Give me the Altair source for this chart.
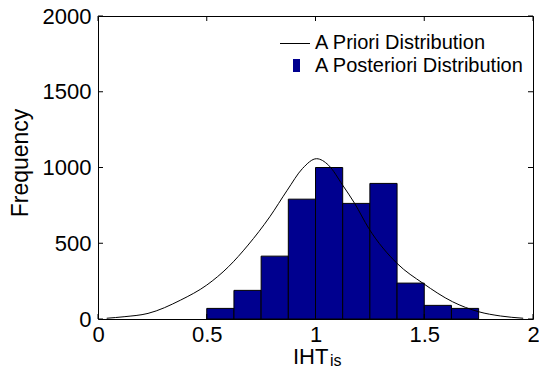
import altair as alt
import pandas as pd

# Histogram (a posteriori) bins and frequencies
bin_start = [0.5, 0.625, 0.75, 0.875, 1.0, 1.125, 1.25, 1.375, 1.5, 1.625]
bin_end = [0.625, 0.75, 0.875, 1.0, 1.125, 1.25, 1.375, 1.5, 1.625, 1.75]
freq = [70, 189, 415, 791, 1000, 763, 895, 237, 90, 70]

# A priori distribution curve
prior_x = [0.04, 0.12, 0.23, 0.38, 0.50, 0.60, 0.69, 0.79, 0.87, 0.94, 1.005,
           1.06, 1.125, 1.18, 1.245, 1.375, 1.495, 1.63, 1.75, 1.85, 1.955]
prior_y = [5, 15, 37, 125, 224, 345, 488, 675, 850, 993, 1058,
           1015, 883, 763, 598, 367, 235, 114, 48, 20, 5]

x_ticks = [0, 0.5, 1, 1.5, 2]
y_ticks = [0, 500, 1000, 1500, 2000]

FONT = "Liberation Sans"
W, H = 435, 303
LEFT = 90  # view starts at page x = 8 + LEFT

bars_df = pd.DataFrame({"x0": bin_start, "x1": bin_end, "f": freq})
prior_df = pd.DataFrame({"x": prior_x, "y": prior_y})
xt_df = pd.DataFrame({"t": x_ticks})
yt_df = pd.DataFrame({"t": y_ticks})

xscale = alt.Scale(domain=[0, 2], nice=False)
yscale = alt.Scale(domain=[0, 2000], nice=False)

xaxis = alt.Axis(values=x_ticks, ticks=False, domain=False, grid=False,
                 labelFont=FONT, labelFontSize=22, labelColor="black",
                 labelPadding=5, title=None, labelFlush=False, format="~g")
yaxis = alt.Axis(values=y_ticks, ticks=False, domain=False, grid=False,
                 labelFont=FONT, labelFontSize=22, labelColor="black",
                 labelPadding=7, title=None, labelFlush=False, format="d")

bars = alt.Chart(bars_df).mark_rect(
    fill="#00008F", stroke="black", strokeWidth=1
).encode(
    x=alt.X("x0:Q", scale=xscale, axis=xaxis),
    x2="x1:Q",
    y=alt.Y("f:Q", scale=yscale, axis=yaxis),
    y2=alt.datum(0),
)

line = alt.Chart(prior_df).mark_line(
    color="black", strokeWidth=1, interpolate="monotone"
).encode(
    x=alt.X("x:Q", scale=xscale),
    y=alt.Y("y:Q", scale=yscale),
)

tk = 5
xt_bottom = alt.Chart(xt_df).mark_rule(color="black", strokeWidth=1).encode(
    x=alt.X("t:Q", scale=xscale), y=alt.value(H), y2=alt.value(H - tk))
xt_top = alt.Chart(xt_df).mark_rule(color="black", strokeWidth=1).encode(
    x=alt.X("t:Q", scale=xscale), y=alt.value(0), y2=alt.value(tk))
yt_left = alt.Chart(yt_df).mark_rule(color="black", strokeWidth=1).encode(
    y=alt.Y("t:Q", scale=yscale), x=alt.value(0), x2=alt.value(tk))
yt_right = alt.Chart(yt_df).mark_rule(color="black", strokeWidth=1).encode(
    y=alt.Y("t:Q", scale=yscale), x=alt.value(W), x2=alt.value(W - tk))

# Titles
ytitle = alt.Chart(pd.DataFrame({"s": ["Frequency"]})).mark_text(
    font=FONT, fontSize=23, angle=270, align="center", baseline="alphabetic",
    color="black"
).encode(text="s:N", x=alt.value(-70), y=alt.value(147))

xtitle = alt.Chart(pd.DataFrame({"s": ["IHT"]})).mark_text(
    font=FONT, fontSize=22, align="left", baseline="alphabetic", color="black"
).encode(text="s:N", x=alt.value(195), y=alt.value(348))

xsub = alt.Chart(pd.DataFrame({"s": ["is"]})).mark_text(
    font=FONT, fontSize=16, align="left", baseline="alphabetic", color="black"
).encode(text="s:N", x=alt.value(232), y=alt.value(350))

# Legend (drawn by hand)
leg_line = alt.Chart(pd.DataFrame({"a": [0]})).mark_rule(
    color="black", strokeWidth=1
).encode(x=alt.value(182), x2=alt.value(212), y=alt.value(27.5))
leg_rect = alt.Chart(pd.DataFrame({"a": [0]})).mark_rect(
    fill="#00008F"
).encode(x=alt.value(195), x2=alt.value(202), y=alt.value(43), y2=alt.value(56))
leg_text = alt.Chart(pd.DataFrame({
    "s": ["A Priori Distribution", "A Posteriori Distribution"],
    "py": [26.5, 49.5],
})).mark_text(
    font=FONT, fontSize=20, align="left", baseline="middle", color="black"
).encode(text="s:N", x=alt.value(217), y=alt.Y("py:Q", scale=None))

chart = alt.layer(
    bars, line, xt_bottom, xt_top, yt_left, yt_right,
    ytitle, xtitle, xsub, leg_line, leg_rect, leg_text
).properties(
    width=W, height=H,
    autosize=alt.AutoSizeParams(type="none"),
    padding={"left": LEFT, "top": 8, "right": 6, "bottom": 49},
    background="white",
).configure_view(
    stroke="black", strokeWidth=1
)

chart.save("out.html", embed_options={"renderer": "svg", "actions": False})
